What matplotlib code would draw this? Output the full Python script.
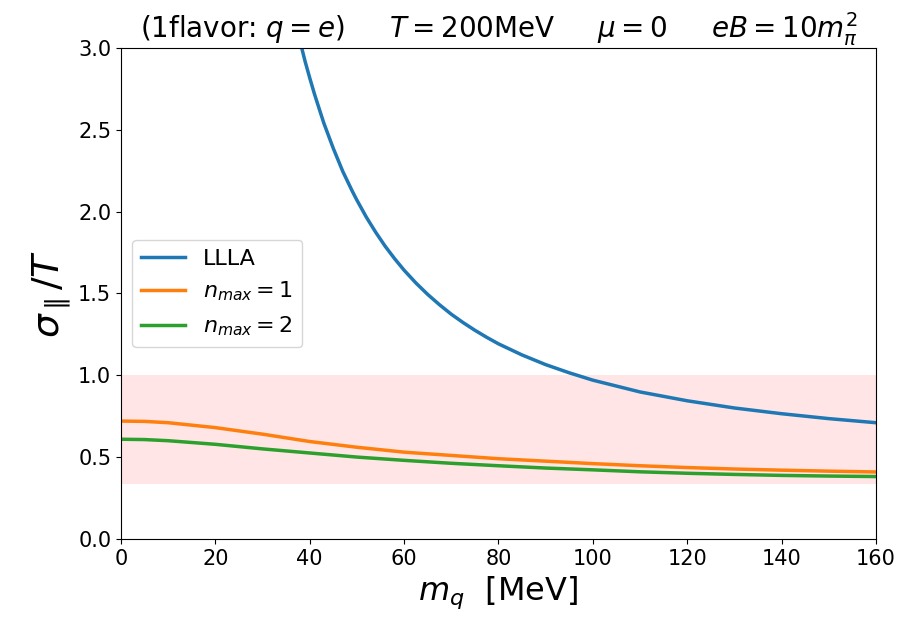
import numpy as np
import matplotlib
matplotlib.use("Agg")
import matplotlib.pyplot as plt

# values
m_lll = [38, 39, 40, 41, 42, 43, 44, 45, 46, 47, 48, 49, 50, 52, 54, 56, 58,
         60, 62.5, 65, 67.5, 70, 72.5, 75, 77.5, 80, 85, 90, 95, 100,
         110, 120, 130, 140, 150, 160]
sig_lll = [3.035, 2.92, 2.817, 2.719, 2.629, 2.54, 2.463, 2.386, 2.316, 2.246,
           2.186, 2.126, 2.07, 1.966, 1.873, 1.788, 1.712,
           1.642, 1.564, 1.494, 1.431, 1.373, 1.322, 1.275, 1.232, 1.192,
           1.124, 1.065, 1.015, 0.97, 0.898, 0.844, 0.80, 0.765, 0.735, 0.71]

m_n = [0, 5, 10, 20, 30, 40, 50, 60, 70, 80, 90, 100, 110, 120, 130, 140, 150, 160]
sig_n1 = [0.72, 0.718, 0.71, 0.68, 0.64, 0.595, 0.56, 0.53, 0.51, 0.49, 0.475,
          0.46, 0.447, 0.436, 0.427, 0.42, 0.414, 0.409]
sig_n2 = [0.609, 0.607, 0.60, 0.578, 0.55, 0.525, 0.50, 0.48, 0.462, 0.447,
          0.433, 0.422, 0.41, 0.401, 0.394, 0.388, 0.384, 0.381]

band_lo, band_hi = 1/3, 1.0

fig = plt.figure(figsize=(9.03, 6.23), dpi=100)
ax = fig.add_axes([0.134, 0.135, 0.836, 0.788])

ax.axhspan(band_lo, band_hi, color='red', alpha=0.1, lw=0)
ax.plot(m_lll, sig_lll, color='#1f77b4', lw=2.5, label='LLLA')
ax.plot(m_n, sig_n1, color='#ff7f0e', lw=2.5, label='$n_{max}=1$')
ax.plot(m_n, sig_n2, color='#2ca02c', lw=2.5, label='$n_{max}=2$')

ax.set_xlim(0, 160)
ax.set_ylim(0, 3.0)
ax.set_xticks(np.arange(0, 161, 20))
ax.set_yticks(np.arange(0, 3.01, 0.5))
ax.tick_params(labelsize=15)

ax.set_xlabel('$m_q$  [MeV]', fontsize=23)
ax.set_ylabel(r'$\sigma_\parallel/T$', fontsize=27)
ax.set_title(r'(1flavor: $q=e$)     $T=200$MeV     $\mu=0$     $eB=10m_\pi^2$',
             fontsize=20, pad=5)

ax.legend(loc='center left', bbox_to_anchor=(0.0, 0.50), fontsize=16)

plt.savefig('out.png', dpi=100)
